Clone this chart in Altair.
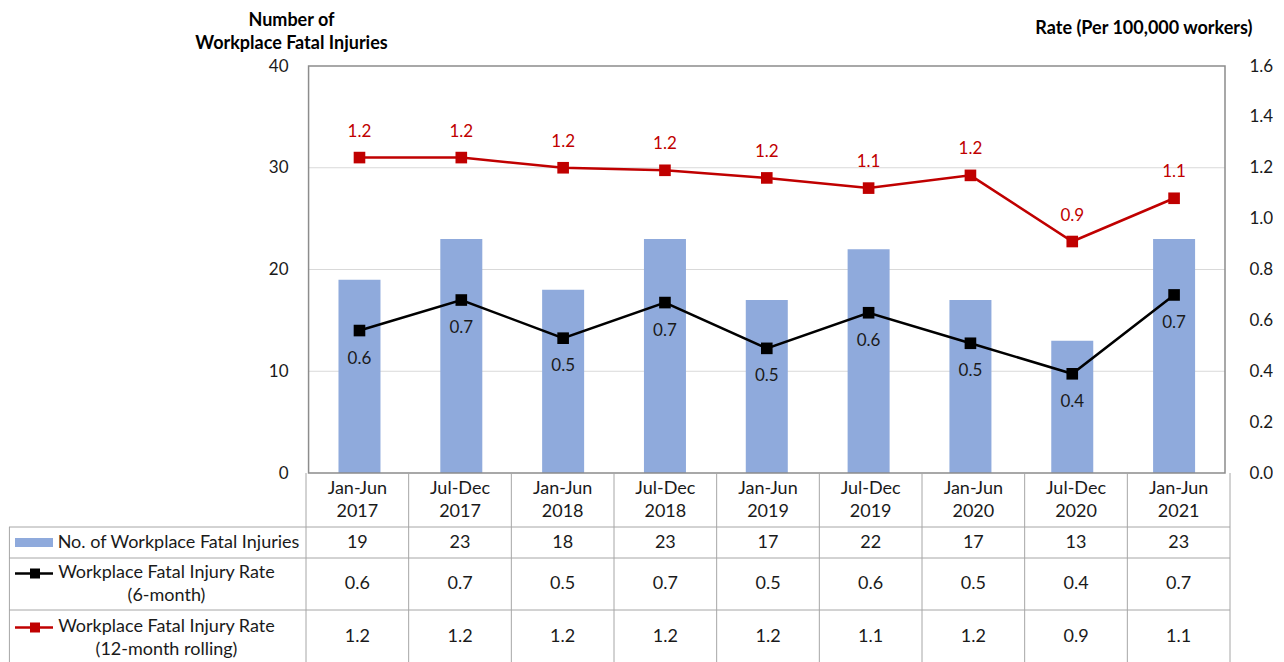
import altair as alt
import pandas as pd

# ---------------- data ----------------
PERIODS = ["Jan-Jun 2017", "Jul-Dec 2017", "Jan-Jun 2018", "Jul-Dec 2018",
           "Jan-Jun 2019", "Jul-Dec 2019", "Jan-Jun 2020", "Jul-Dec 2020",
           "Jan-Jun 2021"]
FATAL_INJURIES = [19, 23, 18, 23, 17, 22, 17, 13, 23]
RATE_6_MONTH = [0.56, 0.68, 0.53, 0.67, 0.49, 0.63, 0.51, 0.39, 0.70]
RATE_12_MONTH = [1.24, 1.24, 1.20, 1.19, 1.16, 1.12, 1.17, 0.91, 1.08]
LEFT_TICKS = [0, 10, 20, 30, 40]
RIGHT_TICKS = [0.0, 0.2, 0.4, 0.6, 0.8, 1.0, 1.2, 1.4, 1.6]
GRID_VALUES = [10, 20, 30]
ROW_LABELS = ["No. of Workplace Fatal Injuries",
              "Workplace Fatal Injury Rate\n(6-month)",
              "Workplace Fatal Injury Rate\n(12-month rolling)"]
SERIES = ["6-month", "12-month rolling"]
LEFT_TITLE = ["Number of", "Workplace Fatal Injuries"]
RIGHT_TITLE = "Rate (Per 100,000 workers)"

# ---------------- layout / style ----------------
FONT = "Lato"
FS_TABLE = 18
FS_AXIS = 17
FS_LABEL = 17
FS_TITLE = 18
BLUE = "#8faadc"
RED = "#c00000"
BLACK = "#000000"
TXT = "#1a1a1a"
GRID = "#d9d9d9"
BORDER = "#8c8c8c"
TABLE_LINE = "#a6a6a6"
N = len(PERIODS)
PLOT_W = 924
LABEL_W = 297
PLOT_H = 407
TABLE_H = 191
LINE_H = 23
COL_W = PLOT_W / N
X_MIN = -LABEL_W / COL_W
TOTAL_W = PLOT_W + LABEL_W
PLOT_LEFT_PX = 305


def u(px):
    """page x pixel -> column units of the shared x scale (layout only)"""
    return (px - PLOT_LEFT_PX) / COL_W


x_scale = alt.Scale(domain=[X_MIN, N], nice=False, zero=False)
yl_scale = alt.Scale(domain=[0, 40], nice=False, zero=True)
yr_scale = alt.Scale(domain=[0, 1.6], nice=False, zero=True)
ty_scale = alt.Scale(domain=[0, TABLE_H], reverse=True, nice=False, zero=False)
series_color = alt.Scale(domain=SERIES, range=[BLACK, RED])


def X(field):
    return alt.X(field, type="quantitative", scale=x_scale, axis=None)


left_axis = alt.Axis(orient="left", offset=-LABEL_W, values=LEFT_TICKS, grid=False,
                     ticks=False, domain=False, labelPadding=18, labelFont=FONT,
                     labelFontSize=FS_AXIS, labelColor=TXT, title=LEFT_TITLE, titleAngle=0,
                     titleX=-15, titleY=-41, titleAlign="center",
                     titleBaseline="alphabetic", titleFont=FONT, titleFontSize=FS_TITLE,
                     titleFontWeight="bold", titleLineHeight=LINE_H, titleColor=BLACK)
right_axis = alt.Axis(orient="right", values=RIGHT_TICKS, format=".1f", grid=False,
                      ticks=False, domain=False, labelPadding=19, labelFont=FONT,
                      labelFontSize=FS_AXIS, labelColor=TXT, title=RIGHT_TITLE,
                      titleAngle=0, titleX=22, titleY=-33, titleAlign="right",
                      titleBaseline="alphabetic", titleFont=FONT, titleFontSize=FS_TITLE,
                      titleFontWeight="bold", titleColor=BLACK)


def YL(field):
    return alt.Y(field, type="quantitative", scale=yl_scale, axis=left_axis)


def YR(field):
    return alt.Y(field, type="quantitative", scale=yr_scale, axis=right_axis)


def TY(field):
    return alt.Y(field, type="quantitative", scale=ty_scale, axis=None)


# ---------------- tables built from the arrays ----------------
df = pd.DataFrame({
    "period": PERIODS,
    "count": FATAL_INJURIES,
    "r6": RATE_6_MONTH,
    "r12": RATE_12_MONTH,
})
df["xc"] = [i + 0.5 for i in range(N)]
df["head"] = [p.replace(" ", "\n") for p in PERIODS]

long = pd.concat([
    pd.DataFrame({"xc": df["xc"], "rate": RATE_6_MONTH, "series": SERIES[0]}),
    pd.DataFrame({"xc": df["xc"], "rate": RATE_12_MONTH, "series": SERIES[1]}),
], ignore_index=True)

grid_df = pd.DataFrame({"g": GRID_VALUES, "x0": 0, "x1": N})
border_df = pd.DataFrame({"x0": [0], "x1": [N], "y0": [0], "y1": [40]})

# ---------------- main chart ----------------
grid = alt.Chart(grid_df).mark_rule(color=GRID, strokeWidth=1).encode(
    x=X("x0"), x2="x1", y=YL("g"))
bars = alt.Chart(df).mark_bar(size=42, color=BLUE, orient="vertical").encode(
    x=X("xc"), y=YL("count"))
border = alt.Chart(border_df).mark_rect(fill="white", fillOpacity=0, stroke=BORDER,
                                        strokeWidth=1.5).encode(
    x=X("x0"), x2="x1", y=YL("y0"), y2="y1")

lines = alt.Chart(long).mark_line(strokeWidth=2.5).encode(
    x=X("xc"), y=YR("rate"),
    color=alt.Color("series:N", scale=series_color, legend=None))
pts = alt.Chart(long).mark_point(shape="square", filled=True, size=135, opacity=1).encode(
    x=X("xc"), y=YR("rate"),
    color=alt.Color("series:N", scale=series_color, legend=None))
lab6 = alt.Chart(long).transform_filter(alt.datum.series == SERIES[0]).mark_text(
    dy=28, font=FONT, fontSize=FS_LABEL, color=TXT, baseline="middle").encode(
    x=X("xc"), y=YR("rate"), text=alt.Text("rate:Q", format=".1f"))
lab12 = alt.Chart(long).transform_filter(alt.datum.series == SERIES[1]).mark_text(
    dy=-26, font=FONT, fontSize=FS_LABEL, color=RED, baseline="middle").encode(
    x=X("xc"), y=YR("rate"), text=alt.Text("rate:Q", format=".1f"))

main = alt.layer(
    alt.layer(grid, bars, border),
    alt.layer(lines, pts, lab6, lab12),
).resolve_scale(y="independent").properties(width=TOTAL_W, height=PLOT_H)

# ---------------- data table ----------------
vr_df = pd.DataFrame({"x": list(range(N + 1)) + [X_MIN + 0.004],
                      "y0": [0] * (N + 1) + [54], "y1": [TABLE_H] * (N + 2)})
hr_df = pd.DataFrame({"y": [54, 85, 137, TABLE_H - 0.5], "x0": X_MIN, "x1": N})
vrules = alt.Chart(vr_df).mark_rule(color=TABLE_LINE, strokeWidth=1).encode(
    x=X("x"), y=TY("y0"), y2="y1")
hrules = alt.Chart(hr_df).mark_rule(color=TABLE_LINE, strokeWidth=1).encode(
    x=X("x0"), x2="x1", y=TY("y"))

txt_kw = dict(font=FONT, fontSize=FS_TABLE, color=TXT, baseline="middle", align="center")
# multi-line texts: first line is placed at y, the next one LINE_H below
head = alt.Chart(df).mark_text(lineBreak="\n", lineHeight=LINE_H, **txt_kw).encode(
    x=X("xc"), y=alt.Y(datum=16, scale=ty_scale, axis=None), text="head:N")
cell_count = alt.Chart(df).mark_text(**txt_kw).encode(
    x=X("xc"), y=alt.Y(datum=69.5, scale=ty_scale, axis=None),
    text=alt.Text("count:Q", format="d"))
cell_r6 = alt.Chart(df).mark_text(**txt_kw).encode(
    x=X("xc"), y=alt.Y(datum=111, scale=ty_scale, axis=None),
    text=alt.Text("r6:Q", format=".1f"))
cell_r12 = alt.Chart(df).mark_text(**txt_kw).encode(
    x=X("xc"), y=alt.Y(datum=164, scale=ty_scale, axis=None),
    text=alt.Text("r12:Q", format=".1f"))

lab_df = pd.DataFrame({"label": ROW_LABELS,
                       "xl": [u(177.5), u(165.5), u(165.5)],
                       "yl": [69.5, 100, 154]})
row_labels = alt.Chart(lab_df).mark_text(lineBreak="\n", lineHeight=LINE_H, **txt_kw).encode(
    x=X("xl"), y=TY("yl"), text="label:N")

key_bar_df = pd.DataFrame({"x0": [u(14)], "x1": [u(52)], "y0": [65], "y1": [74]})
key_bar = alt.Chart(key_bar_df).mark_rect(color=BLUE).encode(
    x=X("x0"), x2="x1", y=TY("y0"), y2="y1")
key_df = pd.DataFrame({"series": SERIES, "x0": u(14), "x1": u(52), "xm": u(34),
                       "y": [100.5, 154.5]})
key_lines = alt.Chart(key_df).mark_rule(strokeWidth=2.5).encode(
    x=X("x0"), x2="x1", y=TY("y"),
    color=alt.Color("series:N", scale=series_color, legend=None))
key_pts = alt.Chart(key_df).mark_point(shape="square", filled=True, size=100, opacity=1).encode(
    x=X("xm"), y=TY("y"),
    color=alt.Color("series:N", scale=series_color, legend=None))

table = alt.layer(vrules, hrules, head, cell_count, cell_r6, cell_r12, row_labels,
                  key_bar, key_lines, key_pts).properties(width=TOTAL_W, height=TABLE_H)

chart = alt.vconcat(main, table, spacing=0, bounds="flush").resolve_scale(
    x="independent", y="independent", color="independent"
).properties(
    padding={"top": 3, "left": 0, "right": 0, "bottom": 0}
).configure_view(strokeWidth=0).configure_text(font=FONT)

chart.save("out.html", embed_options={"renderer": "svg", "actions": False})
